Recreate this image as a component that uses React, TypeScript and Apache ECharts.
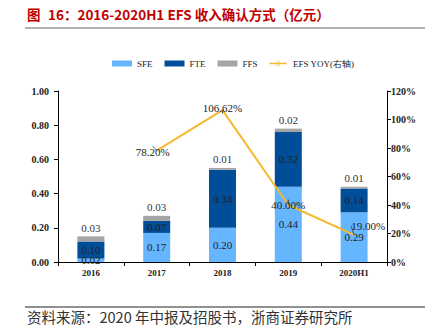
import React, { useEffect, useRef } from "react";
import * as echarts from "echarts";

const categories = ["2016", "2017", "2018", "2019", "2020H1"];
const sfe = [0.02, 0.17, 0.2, 0.44, 0.29];
const fte = [0.1, 0.07, 0.34, 0.32, 0.14];
const ffs = [0.03, 0.03, 0.01, 0.02, 0.01];
const yoy: (number | string)[] = ["-", 78.2, 106.62, 40.0, 19.0];
const leftTicks = { min: 0, max: 1, interval: 0.2 };
const rightTicks = { min: 0, max: 120, interval: 20 };

const titlePrefix = "图";
const titleText = "16：2016-2020H1 EFS 收入确认方式（亿元）";
const sourceText = "资料来源：2020 年中报及招股书，浙商证券研究所";

const serif = "'Liberation Serif', 'Times New Roman', serif";
const cjk = "'Noto Sans CJK SC', sans-serif";

export default function App() {
  const ref = useRef<HTMLDivElement>(null);
  useEffect(() => {
    if (!ref.current) return;
    const chart = echarts.init(ref.current, null, { renderer: "svg" });
    const barLabel = {
      show: true,
      position: "inside",
      color: "#222",
      fontFamily: serif,
      fontSize: 11,
      formatter: (p: any) => Number(p.value).toFixed(2),
    };
    chart.setOption({
      animation: false,
      backgroundColor: "#fff",
      textStyle: { fontFamily: serif },
      legend: {
        top: 54,
        left: 107,
        itemWidth: 20,
        itemHeight: 6,
        itemGap: 12,
        textStyle: { fontFamily: serif, fontSize: 9, color: "#222" },
        data: [
          { name: "SFE", icon: "rect" },
          { name: "FTE", icon: "rect" },
          { name: "FFS", icon: "rect" },
          {
            name: "EFS YOY(右轴)",
            icon: "path://M0 4.2H20V5.8H0Z M7.5 1.5L8.3 1.5L12.5 8.5L11.7 8.5Z M11.7 1.5L12.5 1.5L8.3 8.5L7.5 8.5Z",
          },
        ],
      },
      grid: { left: 58, right: 51, top: 91, bottom: 69 },
      xAxis: {
        type: "category",
        data: categories,
        axisLine: { lineStyle: { color: "#000", width: 1 } },
        axisTick: { show: true, alignWithLabel: false, lineStyle: { color: "#000" }, length: 4 },
        axisLabel: { color: "#222", fontFamily: serif, fontWeight: "bold", fontSize: 9, margin: 6 },
      },
      yAxis: [
        {
          type: "value",
          ...leftTicks,
          axisLine: { show: true, lineStyle: { color: "#000" } },
          axisTick: { show: true, length: 4, lineStyle: { color: "#000" } },
          splitLine: { show: false },
          axisLabel: {
            color: "#222",
            fontFamily: serif,
            fontWeight: "bold",
            fontSize: 10,
            margin: 9,
            formatter: (v: number) => v.toFixed(2),
          },
        },
        {
          type: "value",
          ...rightTicks,
          position: "right",
          axisLine: { show: true, lineStyle: { color: "#000" } },
          axisTick: { show: true, length: 4, lineStyle: { color: "#000" } },
          splitLine: { show: false },
          axisLabel: {
            color: "#222",
            fontFamily: serif,
            fontWeight: "bold",
            fontSize: 10,
            margin: 4,
            formatter: (v: number) => v + "%",
          },
        },
      ],
      series: [
        {
          name: "SFE",
          type: "bar",
          stack: "a",
          barWidth: 27,
          data: sfe,
          itemStyle: { color: "#66B5FF" },
          label: barLabel,
        },
        {
          name: "FTE",
          type: "bar",
          stack: "a",
          data: fte,
          itemStyle: { color: "#004E98" },
          label: barLabel,
        },
        {
          name: "FFS",
          type: "bar",
          stack: "a",
          data: ffs,
          itemStyle: { color: "#A5A5A5" },
          label: { ...barLabel, position: "top", distance: 3, color: "#333" },
        },
        {
          name: "EFS YOY(右轴)",
          type: "line",
          yAxisIndex: 1,
          data: yoy,
          symbol: "circle",
          showSymbol: true,
          symbolSize: 0.01,
          lineStyle: { color: "#F5B82E", width: 2 },
          itemStyle: { color: "#F5B82E" },
          label: {
            show: true,
            position: "inside",
            color: "#222",
            fontFamily: serif,
            fontSize: 11,
            formatter: (p: any) => Number(p.value).toFixed(2) + "%",
          },
          labelLine: { show: true, lineStyle: { color: "#333", width: 0.8 } },
          labelLayout: (p: any) =>
            p.dataIndex === 4
              ? { dx: 14, dy: -9 }
              : p.dataIndex === 1
              ? { dx: -4, dy: 1 }
              : p.dataIndex === 2
              ? { dy: -2 }
              : {},
        },
      ],
      graphic: [
        {
          type: "text",
          x: 27,
          y: 14,
          style: {
            text: titlePrefix,
            fill: "#C00000",
            font: "bold 13.5px " + cjk,
            textVerticalAlign: "middle",
          },
        },
        {
          type: "text",
          x: 48,
          y: 14,
          style: {
            text: titleText,
            fill: "#C00000",
            font: "bold 13.5px " + cjk,
            textVerticalAlign: "middle",
          },
        },
        {
          type: "line",
          shape: { x1: 25, y1: 28, x2: 425, y2: 28 },
          style: { stroke: "#666", lineWidth: 1 },
        },
        {
          type: "line",
          shape: { x1: 25, y1: 307, x2: 425, y2: 307 },
          style: { stroke: "#222", lineWidth: 1 },
        },
        {
          type: "text",
          x: 27,
          y: 316,
          style: {
            text: sourceText,
            fill: "#333",
            font: "14.5px " + cjk,
            textVerticalAlign: "middle",
          },
        },
      ],
    });
    return () => chart.dispose();
  }, []);
  return <div ref={ref} style={{ width: 438, height: 331, position: "absolute", left: 0, top: 0 }} />;
}
